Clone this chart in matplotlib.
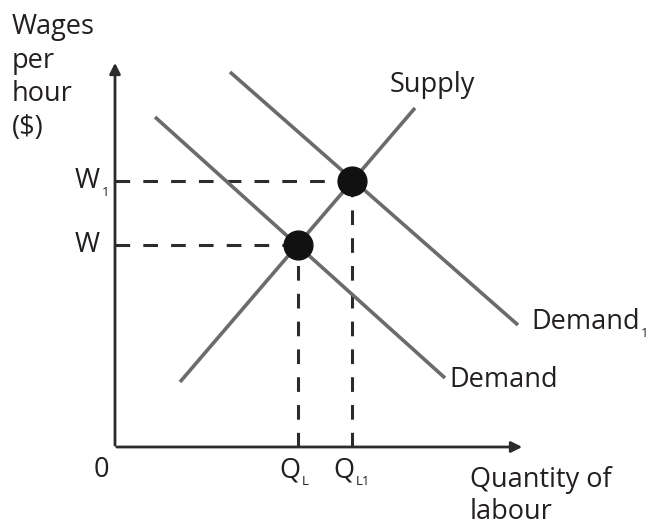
import matplotlib.pyplot as plt

plt.rcParams['font.family'] = ['Open Sans', 'DejaVu Sans']

# curves (x, y) in chart units, origin at the axes corner
supply_x = [65, 300]
supply_y = [65, 339]
demand_x = [40, 330]
demand_y = [330, 69]
demand1_x = [115, 403]
demand1_y = [375, 122]

# equilibrium points
eq_x = [183, 237]
eq_y = [202, 266]
eq_labels_x = [('Q', 'L'), ('Q', 'L1')]
eq_labels_y = [('W', ''), ('W', '1')]

line_col = '#6b6b6b'
axis_col = '#2b2b2b'
text_col = '#231f20'

fig = plt.figure(figsize=(6.48, 5.28), dpi=100)
ax = fig.add_axes([0, 0, 1, 1])
ax.set_xlim(-115, 533)
ax.set_ylim(-81, 447)
ax.axis('off')

# axes with arrows
ax.annotate('', xy=(0, 387), xytext=(0, -1),
            arrowprops=dict(arrowstyle='-|>', color=axis_col, lw=2, mutation_scale=16))
ax.annotate('', xy=(410, 0), xytext=(-1, 0),
            arrowprops=dict(arrowstyle='-|>', color=axis_col, lw=2, mutation_scale=16))

# dashed guides
for x, y in zip(eq_x, eq_y):
    ax.plot([0, x], [y, y], color=axis_col, lw=2.2, dashes=(4.8, 4.3))
    ax.plot([x, x], [0, y], color=axis_col, lw=2.2, dashes=(4.8, 4.3))

ax.plot(supply_x, supply_y, color=line_col, lw=2.6, solid_capstyle='butt')
ax.plot(demand_x, demand_y, color=line_col, lw=2.6, solid_capstyle='butt')
ax.plot(demand1_x, demand1_y, color=line_col, lw=2.6, solid_capstyle='butt')

ax.scatter(eq_x, eq_y, s=430, color='#111111', zorder=5)

fs = 19.5
sub_fs = 9.5


def label(x, y, main, sub, ha='left', va='center'):
    t = ax.text(x, y, main, fontsize=fs, color=text_col, ha=ha, va=va)
    if sub:
        ax.annotate(sub, xy=(1.0, 0.1), xycoords=t, xytext=(1, 0),
                    textcoords='offset points', fontsize=sub_fs, color=text_col,
                    ha='left', va='center')
    return t


label(275, 362, 'Supply', '')
label(334, 67, 'Demand', '')
label(416, 125, 'Demand', '1')

ax.text(-103, 434, 'Wages\nper\nhour\n($)', fontsize=fs, color=text_col, va='top',
        linespacing=1.27)
ax.text(355, -19, 'Quantity of\nlabour', fontsize=fs, color=text_col, va='top',
        linespacing=1.2)

label(-14, -23, '0', '', ha='center')
for x, (m, s) in zip(eq_x, eq_labels_x):
    label(x - 8, -23, m, s, ha='center')
for y, (m, s) in zip(eq_y, eq_labels_y):
    label(-15, y, m, s, ha='right')

fig.savefig('out.png', dpi=100)
